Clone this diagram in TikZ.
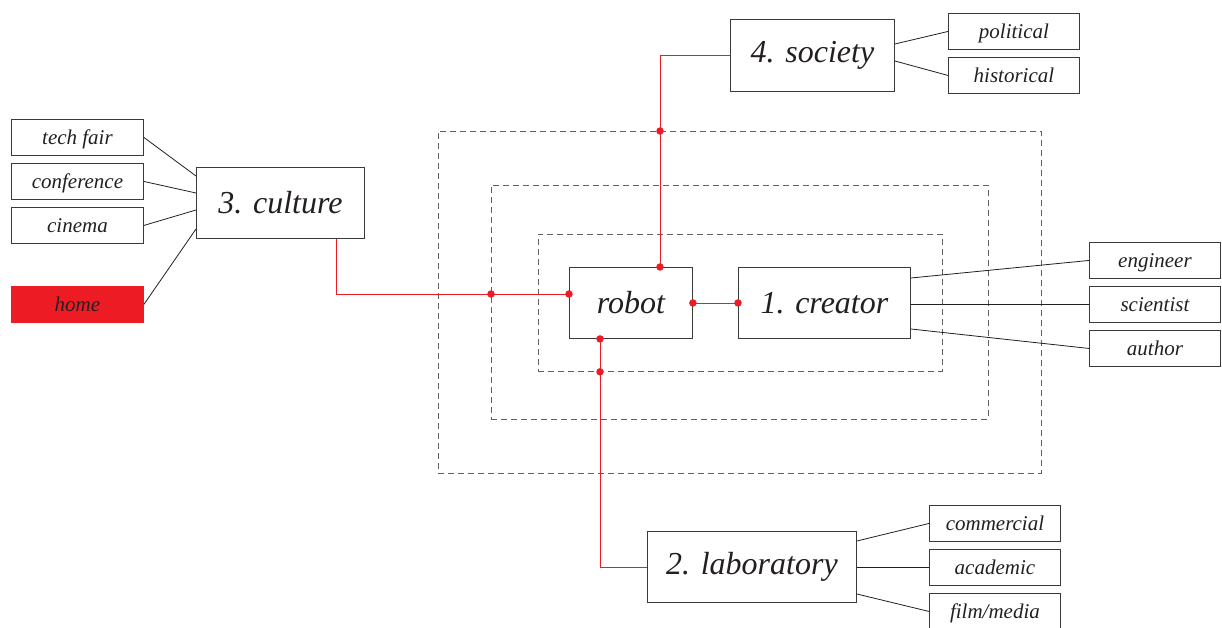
\documentclass[tikz,border=0pt]{standalone}
\usepackage{fontspec}
\setmainfont{Liberation Serif}
\usetikzlibrary{calc}
\definecolor{ink}{HTML}{231F20}
\definecolor{edge}{HTML}{3A3A3A}
\definecolor{accent}{HTML}{ED1C24}
\tikzset{
  box/.style={draw=edge, line width=0.9pt, anchor=north west, inner sep=0pt,
              text=ink, font=\itshape\fontsize{21}{21}\selectfont},
  leaf/.style={box, minimum width=132pt, minimum height=36pt, text depth=0pt},
  hub/.style={box, font=\itshape\fontsize{32}{32}\selectfont},
  ring/.style={draw=edge!80, line width=0.8pt, dash pattern=on 6pt off 4pt,
               anchor=north west, inner sep=0pt},
  link/.style={draw=ink, line width=0.8pt},
  wire/.style={draw=accent, line width=0.9pt},
  joint/.style={fill=accent, draw=none, circle, inner sep=0pt, minimum size=7.5pt},
}
\begin{document}
\begin{tikzpicture}[x=1pt, y=-1pt]
\useasboundingbox (0,0) rectangle (1222,628);

% nested dashed frames
\node[ring, minimum width=603pt, minimum height=342pt] (ring1) at (438,131) {};
\node[ring, minimum width=497pt, minimum height=234pt] (ring2) at (491,185) {};
\node[ring, minimum width=404pt, minimum height=137pt] (ring3) at (538,234) {};

% central boxes
\node[hub, minimum width=123pt, minimum height=71pt] (robot) at (569,267) {robot};
\node[hub, minimum width=172pt, minimum height=71pt] (creator) at (738,267) {1. creator};
\node[hub, minimum width=168pt, minimum height=71pt] (culture) at (196,167) {3. culture};
\node[hub, minimum width=164pt, minimum height=72pt] (society) at (730,19) {4. society};
\node[hub, minimum width=209pt, minimum height=71pt] (lab) at (647,531) {2. laboratory};

% leaves of culture
\node[leaf] (fair) at (11,119) {tech fair};
\node[leaf] (conf) at (11,163) {conference};
\node[leaf] (cinema) at (11,207) {cinema};
\node[leaf, fill=accent, draw=accent] (home) at (11,286) {home};

% leaves of society
\node[leaf, minimum width=131pt] (political) at (948,13) {political};
\node[leaf, minimum width=131pt] (historical) at (948,57) {historical};

% leaves of creator
\node[leaf, minimum width=131pt] (engineer) at (1089,242) {engineer};
\node[leaf, minimum width=131pt] (scientist) at (1089,286) {scientist};
\node[leaf, minimum width=131pt] (author) at (1089,330) {author};

% leaves of laboratory
\node[leaf, minimum width=131pt] (commercial) at (929,505) {commercial};
\node[leaf, minimum width=131pt] (academic) at (929,549) {academic};
\node[leaf, minimum width=131pt] (film) at (929,593) {film/media};

% black connectors
\draw[link] (fair.east) -- ([yshift=-9pt]culture.north west);
\draw[link] (conf.east) -- ([yshift=-26pt]culture.north west);
\draw[link] (cinema.east) -- ([yshift=-43pt]culture.north west);
\draw[link] (home.east) -- ([yshift=-62pt]culture.north west);

\draw[link] ([yshift=-25pt]society.north east) -- (political.west);
\draw[link] ([yshift=-42pt]society.north east) -- (historical.west);

\draw[link] ([yshift=-11pt]creator.north east) -- (engineer.west);
\draw[link] (creator.east |- scientist.west) -- (scientist.west);
\draw[link] ([yshift=-62pt]creator.north east) -- (author.west);

\draw[link] ([yshift=-10pt]lab.north east) -- (commercial.west);
\draw[link] (lab.east |- academic.west) -- (academic.west);
\draw[link] ([yshift=-63pt]lab.north east) -- (film.west);

% red wiring into the robot
\coordinate (cFoot) at ([xshift=-28pt]culture.south east);
\coordinate (rLeft) at ([yshift=-27pt]robot.north west);
\coordinate (rTop) at ([xshift=91pt]robot.north west);
\coordinate (rBottom) at ([xshift=31pt]robot.south west);

\draw[wire] (cFoot) |- (rLeft);
\draw[wire] (society.west) -| (rTop);
\draw[wire] (rBottom) |- (lab.west);
\draw[wire] (robot.east) -- (creator.west);

% junction dots
\node[joint] at (rLeft) {};
\node[joint] at (ring2.west |- rLeft) {};
\node[joint] at (rTop) {};
\node[joint] at (rTop |- ring1.north) {};
\node[joint] at (rBottom) {};
\node[joint] at (rBottom |- ring3.south) {};
\node[joint] at (robot.east) {};
\node[joint] at (creator.west) {};
\end{tikzpicture}
\end{document}
